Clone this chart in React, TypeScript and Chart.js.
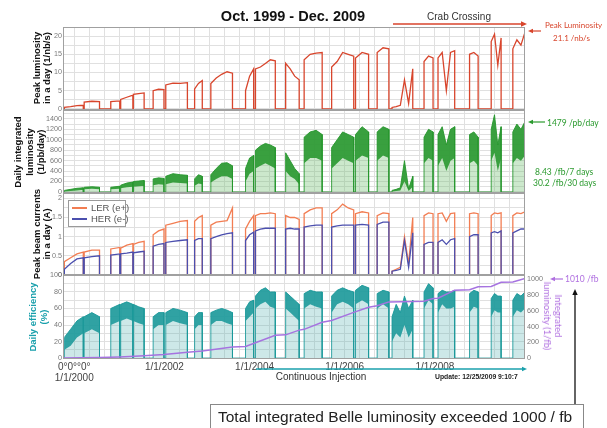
import React, { useEffect, useRef } from 'react';
import { Chart, registerables } from 'chart.js';
Chart.register(...registerables);

// ---------- DATA ----------
// run periods (decimal years)
const runStart = [1999.78, 2000.22, 2000.81, 2001.03, 2001.31, 2001.75, 2002.03, 2002.67, 2003.03, 2003.80, 2004.02, 2004.69, 2005.10, 2005.71, 2006.24, 2006.72, 2007.05, 2007.76, 2008.07, 2008.77, 2009.25, 2009.73];
const runEnd = [2000.20, 2000.56, 2001.01, 2001.30, 2001.55, 2001.99, 2002.51, 2002.84, 2003.51, 2003.98, 2004.46, 2004.99, 2005.50, 2006.20, 2006.53, 2006.98, 2007.51, 2007.96, 2008.44, 2008.96, 2009.47, 2010.0];

// peak luminosity in a day (1/nb/s)
const peakLumi = [
  [0.4, 0.6, 0.9, 1.0], [1.9, 2.1, 2.0], [2.0, 2.2], [2.6, 3.2, 3.8], [4.0, 4.2, 4.4], [5.0, 5.4, 5.3],
  [6.6, 7.1, 7.0, 7.2], [5.5, 7.0, 7.8], [7.0, 8.5, 9.5, 10.2, 9.8], [5.0, 9.0, 11.0], [11.0, 11.5, 12.5, 13.5, 13.2],
  [12.5, 11.0, 9.0, 8.0], [13.5, 15.0, 15.3, 15.5], [11.5, 13.0, 15.5, 15.0, 14.5], [14.0, 15.5, 15.0], [15.5, 16.8, 16.5],
  [0.4, 0.6, 1.0, 8.0, 1.5, 11.0], [13.0, 14.5, 14.0], [14.0, 15.5, 5.0, 15.5, 16.0], [15.0, 15.5, 14.5],
  [18.5, 20.5, 12.0, 19.5], [16.5, 19.0, 17.5, 21.1],
];

// daily integrated luminosity (1/pb/day): upper and lower edge of the band
const dailyHigh = [
  [30, 50, 70, 80], [90, 100, 90], [90, 110], [130, 170, 190], [200, 210, 220], [250, 270, 260],
  [300, 350, 330, 320], [250, 330, 300], [330, 450, 550, 560, 500], [450, 650, 700], [800, 880, 930, 900, 850],
  [750, 600, 450, 350], [1050, 1150, 1180, 1100], [850, 1000, 1150, 1100, 1050], [1100, 1250, 1150], [1150, 1250, 1200],
  [30, 50, 80, 600, 60, 300], [1050, 1200, 1150], [1100, 1250, 900, 1200, 1250], [1100, 1150, 1050],
  [1200, 1479, 900, 1250], [1150, 1300, 1200, 1350],
];
const dailyLow = [
  [10, 20, 30, 40], [50, 60, 50], [50, 60], [70, 90, 100], [100, 110, 120], [130, 150, 140],
  [150, 180, 170, 160], [120, 160, 150], [180, 250, 300, 300, 250], [200, 350, 400], [450, 500, 550, 500, 450],
  [400, 300, 250, 150], [550, 650, 650, 600], [450, 550, 650, 600, 550], [600, 700, 650], [600, 700, 650],
  [10, 20, 30, 200, 20, 100], [550, 650, 600], [500, 650, 400, 600, 650], [550, 600, 500],
  [600, 750, 400, 650], [550, 650, 600, 700],
];

// peak beam currents in a day (A)
const lerCurrent = [
  [0.35, 0.45, 0.55, 0.6], [0.6, 0.65, 0.65], [0.68, 0.72], [0.7, 0.78, 0.82], [0.8, 0.85, 0.88], [1.05, 1.15, 1.2],
  [1.3, 1.35, 1.4, 1.42], [1.4, 1.5, 1.55], [1.3, 1.38, 1.4, 1.42, 1.75], [1.2, 1.4, 1.55], [1.55, 1.6, 1.6, 1.62, 1.6],
  [1.55, 1.5, 1.5, 1.45], [1.6, 1.7, 1.75, 1.75], [1.6, 1.7, 1.85, 1.75, 1.7], [1.6, 1.65, 1.62], [1.55, 1.62, 1.6],
  [0.1, 0.15, 0.2, 1.0, 0.3, 1.5], [1.55, 1.62, 1.6], [1.6, 1.62, 1.4, 1.6, 1.62], [1.6, 1.62, 1.6],
  [1.55, 1.62, 1.6, 1.62], [1.55, 1.62, 1.6, 1.65],
];
const herCurrent = [
  [0.15, 0.3, 0.42, 0.45], [0.45, 0.48, 0.5], [0.52, 0.55], [0.55, 0.57, 0.6], [0.58, 0.6, 0.62], [0.75, 0.8, 0.82],
  [0.85, 0.88, 0.9, 0.92], [0.9, 0.95, 0.95], [0.95, 1.0, 1.05, 1.08, 1.1], [0.9, 1.05, 1.12], [1.15, 1.2, 1.22, 1.22, 1.22],
  [1.2, 1.22, 1.2, 1.2], [1.25, 1.28, 1.3, 1.3], [1.25, 1.28, 1.3, 1.3, 1.3], [1.3, 1.32, 1.3], [1.32, 1.38, 1.38],
  [0.1, 0.12, 0.15, 0.9, 0.2, 1.1], [0.8, 0.85, 0.85], [0.85, 0.92, 0.8, 0.92, 0.95], [1.0, 1.05, 1.05],
  [1.1, 1.13, 1.1, 1.15], [1.1, 1.15, 1.2, 1.2],
];

// daily efficiency (%): upper and lower edge of the dense band
const effHigh = [
  [25, 35, 45, 50], [50, 55, 50], [60, 65], [65, 68, 65], [65, 62, 60], [50, 55, 55],
  [55, 60, 58, 55], [50, 55, 55], [55, 58, 60, 58, 55], [60, 68, 70], [75, 82, 85, 80, 80],
  [80, 75, 70, 65], [78, 82, 80, 80], [75, 82, 85, 82, 80], [82, 88, 85], [78, 82, 80],
  [50, 65, 55, 75, 60, 70], [80, 90, 85], [78, 82, 80, 80, 82], [78, 82, 80],
  [72, 78, 75, 75], [70, 78, 75, 80],
];
const effLow = [
  [10, 15, 25, 30], [30, 35, 30], [40, 45], [45, 48, 45], [45, 42, 40], [35, 40, 40],
  [40, 45, 42, 40], [35, 40, 40], [40, 45, 45, 42, 40], [45, 50, 55], [60, 65, 68, 62, 60],
  [60, 55, 50, 45], [60, 65, 62, 60], [55, 65, 68, 65, 60], [65, 70, 65], [60, 65, 60],
  [20, 30, 25, 40, 25, 35], [60, 70, 65], [55, 65, 60, 60, 62], [55, 62, 60],
  [50, 58, 55, 55], [50, 58, 55, 60],
];

// integrated luminosity (1/fb)
const intYears = [1999.75, 2000.56, 2001.01, 2001.55, 2001.99, 2002.51, 2002.84, 2003.51, 2003.80, 2004.46, 2004.69, 2004.99, 2005.10, 2005.50, 2005.71, 2006.20, 2006.53, 2006.72, 2006.98, 2007.51, 2007.76, 2007.96, 2008.07, 2008.44, 2008.77, 2008.96, 2009.25, 2009.47, 2009.73, 2010.0];
const intValues = [0, 8, 15, 30, 45, 75, 90, 140, 148, 290, 295, 355, 365, 455, 478, 580, 645, 665, 713, 718, 722, 756, 760, 862, 866, 905, 908, 962, 965, 1010];

const xLabelYears = [2000, 2002, 2004, 2006, 2008];
const peakTicks = [0, 5, 10, 15, 20];
const dailyTicks = [0, 200, 400, 600, 800, 1000, 1200, 1400];
const currentTicks = [0, 0.5, 1, 1.5, 2];
const effTicks = [0, 20, 40, 60, 80, 100];
const intTicks = [0, 200, 400, 600, 800, 1000];

// ---------- STYLE ----------
const W = 607, H = 428;
const PLOT_L = 63, PLOT_R = 525;
const X_MIN = 1999.75, X_MAX = 2010.0;
const GRID = '#e0e0e0';
const FONT = "'Liberation Sans', Arial, sans-serif";
const ROUND = "Lato, 'Noto Sans', sans-serif";
const RED = '#d8452c';
const GREEN = 'rgba(38,150,44,0.88)';
const GREEN_LIGHT = 'rgba(110,190,110,0.35)';
const LER_C = '#f27d52';
const HER_C = '#4b4fae';
const TEAL = 'rgba(26,152,154,0.88)';
const TEAL_LIGHT = 'rgba(90,180,180,0.3)';
const VIOLET = '#a673e0';

function buildSeries(vals: number[][]) {
  const pts: { x: number; y: number }[] = [];
  for (let i = 0; i < runStart.length; i++) {
    const s = runStart[i], e = runEnd[i], v = vals[i];
    pts.push({ x: s, y: 0 });
    const n = v.length;
    for (let j = 0; j < n; j++) pts.push({ x: s + ((e - s) * j) / (n - 1), y: v[j] });
    if (e < X_MAX) pts.push({ x: e, y: 0 });
  }
  return pts;
}

const gridX: number[] = [];
for (let y = 2000; y < 2010; y++) for (let k = 0; k < 3; k++) gridX.push(y + k / 3);

function minorTicks(step: number, max: number) {
  const out: number[] = [];
  for (let i = 0; i * step <= max + 1e-9; i++) out.push(Math.round(i * step * 1000) / 1000);
  return out;
}

function xScale(showLabels: boolean) {
  return {
    type: 'linear',
    min: X_MIN,
    max: X_MAX,
    afterBuildTicks: (s: any) => { s.ticks = gridX.map((v) => ({ value: v })); },
    afterFit: (s: any) => { s.height = showLabels ? 26 : 0; },
    grid: { color: GRID, drawTicks: false },
    border: { display: false },
    ticks: {
      display: showLabels,
      autoSkip: false,
      maxRotation: 0,
      padding: 3,
      color: '#444',
      font: { size: 10, family: FONT, lineHeight: 1.1 },
      callback: (v: number) => {
        const r = Math.round(v);
        if (Math.abs(v - r) > 1e-6 || !xLabelYears.includes(r)) return '';
        if (r === 2000) return ['0\u00B00\u00B0\u00B00\u00B0', '1/1/2000'];
        return '1/1/' + r;
      },
    },
  };
}

function yScale(min: number, max: number, grid: number[], labels: number[], position = 'left') {
  return {
    type: 'linear',
    position,
    min,
    max,
    afterBuildTicks: (s: any) => { s.ticks = (position === 'left' ? grid : labels).map((v) => ({ value: v })); },
    afterFit: (s: any) => { s.width = 30; },
    grid: { color: GRID, drawTicks: false, display: position === 'left' },
    border: { display: false },
    ticks: {
      autoSkip: false,
      padding: position === 'left' ? 1 : 2,
      color: '#7a7a7a',
      font: { size: 7.2, family: FONT },
      callback: (v: number) => (labels.some((l) => Math.abs(l - v) < 1e-6) ? String(v) : ''),
    },
  };
}

const framePlugin = {
  id: 'frame',
  afterDraw(chart: any) {
    const { ctx, chartArea: a } = chart;
    ctx.save();
    ctx.strokeStyle = '#a0a0a0';
    ctx.lineWidth = 1;
    ctx.strokeRect(Math.round(a.left) + 0.5, Math.round(a.top) + 0.5, Math.round(a.right - a.left) - 1, Math.round(a.bottom - a.top) - 1);
    ctx.restore();
  },
};

function baseOptions(top: number, bottom: number, rightPad: number, scales: any) {
  return {
    responsive: false,
    animation: false,
    devicePixelRatio: 1,
    events: [],
    layout: { padding: { left: PLOT_L - 30, right: rightPad, top, bottom } },
    plugins: { legend: { display: false }, tooltip: { enabled: false } },
    elements: { point: { radius: 0 }, line: { tension: 0 } },
    scales,
  };
}

function line(data: any, color: string, width = 1.2, extra: any = {}) {
  return { data, borderColor: color, borderWidth: width, pointRadius: 0, fill: false, ...extra };
}

function makeConfigs() {
  const c1 = {
    type: 'line',
    data: { datasets: [line(buildSeries(peakLumi), RED, 1.3)] },
    options: baseOptions(27, H - 110, W - PLOT_R, { x: xScale(false), y: yScale(-0.3, 22.5, minorTicks(2.5, 20), peakTicks) }),
    plugins: [framePlugin],
  };
  const c2 = {
    type: 'line',
    data: {
      datasets: [
        line(buildSeries(dailyHigh), GREEN, 1, { fill: 'origin', backgroundColor: GREEN_LIGHT, order: 2 }),
        line(buildSeries(dailyLow), 'rgba(0,0,0,0)', 0, { fill: '-1', backgroundColor: GREEN, order: 1 }),
      ],
    },
    options: baseOptions(110, H - 193, W - PLOT_R, { x: xScale(false), y: yScale(-20, 1570, minorTicks(100, 1500), dailyTicks) }),
    plugins: [framePlugin],
  };
  const c3 = {
    type: 'line',
    data: { datasets: [line(buildSeries(herCurrent), HER_C, 1.3), line(buildSeries(lerCurrent), LER_C, 1.3)] },
    options: baseOptions(193, H - 275, W - PLOT_R, { x: xScale(false), y: yScale(0, 2.14, minorTicks(0.25, 2), currentTicks) }),
    plugins: [framePlugin],
  };
  const c4 = {
    type: 'line',
    data: {
      datasets: [
        line(intYears.map((x, i) => ({ x, y: intValues[i] })), VIOLET, 1.5, { yAxisID: 'y2', order: 0 }),
        line(buildSeries(effHigh), TEAL, 1, { fill: 'origin', backgroundColor: TEAL_LIGHT, order: 3 }),
        line(buildSeries(effLow), 'rgba(0,0,0,0)', 0, { fill: '-1', backgroundColor: TEAL, order: 2 }),
      ],
    },
    options: baseOptions(275, H - 358.5 - 26, W - PLOT_R - 30, {
      x: xScale(true),
      y: yScale(-0.5, 100.5, minorTicks(10, 100), effTicks),
      y2: yScale(-5, 1054, intTicks, intTicks, 'right'),
    }),
    plugins: [framePlugin],
  };
  return [c1, c2, c3, c4];
}

// ---------- OVERLAY HELPERS ----------
function Txt(p: { x: number; y: number; t: string; size: number; color?: string; bold?: boolean; center?: boolean; font?: string }) {
  return (
    <div
      style={{
        position: 'absolute',
        left: p.x,
        top: p.y,
        transform: p.center ? 'translate(-50%,-50%)' : 'translateY(-50%)',
        fontSize: p.size,
        lineHeight: 1,
        color: p.color || '#222',
        fontWeight: p.bold ? 'bold' : 'normal',
        fontFamily: p.font || FONT,
        whiteSpace: 'nowrap',
      }}
    >
      {p.t}
    </div>
  );
}

function VTitle(p: { cx: number; cy: number; lines: string[]; size: number; lh: number; color: string; bold?: boolean; rot: number; font?: string }) {
  return (
    <div
      style={{
        position: 'absolute',
        left: p.cx,
        top: p.cy,
        transform: `translate(-50%,-50%) rotate(${p.rot}deg)`,
        fontSize: p.size,
        lineHeight: p.lh + 'px',
        color: p.color,
        fontWeight: p.bold ? 'bold' : 'normal',
        fontFamily: p.font || FONT,
        whiteSpace: 'nowrap',
        textAlign: 'center',
      }}
    >
      {p.lines.map((l, i) => (
        <div key={i}>{l}</div>
      ))}
    </div>
  );
}

function Arrow({ x1, y1, x2, y2, color, w = 1.5, head = 6 }: any) {
  const a = Math.atan2(y2 - y1, x2 - x1);
  const hx = x2 - head * Math.cos(a), hy = y2 - head * Math.sin(a);
  const px = Math.sin(a) * head * 0.45, py = -Math.cos(a) * head * 0.45;
  return (
    <g>
      <line x1={x1} y1={y1} x2={hx} y2={hy} stroke={color} strokeWidth={w} />
      <polygon points={`${x2},${y2} ${hx + px},${hy + py} ${hx - px},${hy - py}`} fill={color} />
    </g>
  );
}

export default function App() {
  const refs = [useRef<HTMLCanvasElement>(null), useRef<HTMLCanvasElement>(null), useRef<HTMLCanvasElement>(null), useRef<HTMLCanvasElement>(null)];
  useEffect(() => {
    const cfgs = makeConfigs();
    const charts = cfgs.map((cfg, i) => new Chart(refs[i].current as HTMLCanvasElement, cfg as any));
    return () => charts.forEach((c) => c.destroy());
  }, []);

  return (
    <div style={{ position: 'fixed', left: 0, top: 0, width: W, height: H, background: '#fff', overflow: 'hidden' }}>
      {refs.map((r, i) => (
        <canvas key={i} ref={r} width={W} height={H} style={{ position: 'absolute', left: 0, top: 0, width: W, height: H }} />
      ))}

      {/* legend */}
      <div style={{ position: 'absolute', left: 68, top: 200, width: 56, height: 25, border: '1px solid #9a9a9a', background: '#fff', fontFamily: FONT, fontSize: 9.5, color: '#555' }}>
        <div style={{ position: 'absolute', left: 3, top: 6, width: 15, height: 1.5, background: LER_C }} />
        <div style={{ position: 'absolute', left: 22, top: 1, lineHeight: '11px', whiteSpace: 'nowrap' }}>LER (e+)</div>
        <div style={{ position: 'absolute', left: 3, top: 17, width: 15, height: 1.5, background: HER_C }} />
        <div style={{ position: 'absolute', left: 22, top: 12, lineHeight: '11px', whiteSpace: 'nowrap' }}>HER (e-)</div>
      </div>

      {/* axis titles */}
      <VTitle cx={42} cy={68} lines={['Peak luminosity', 'in a day (1/nb/s)']} size={9.5} lh={10} color="#111" bold rot={-90} />
      <VTitle cx={28.5} cy={152} lines={['Daily integrated', 'luminosity', '(1/pb/day)']} size={9.5} lh={11.5} color="#111" bold rot={-90} />
      <VTitle cx={42} cy={234} lines={['Peak beam currents', 'in a day (A)']} size={9.5} lh={10} color="#111" bold rot={-90} />
      <VTitle cx={38} cy={317} lines={['Daily efficiency', '(%)']} size={9.5} lh={11} color="#1aa0ac" bold rot={-90} />
      <VTitle cx={552.5} cy={316} lines={['Integrated', 'luminosity (1/fb)']} size={9.5} lh={11} color="#b070e0" rot={90} font={ROUND} />

      {/* texts */}
      <Txt x={293} y={16} t="Oct. 1999 - Dec. 2009" size={14.5} bold center color="#111" />
      <Txt x={459} y={17} t="Crab Crossing" size={10} center color="#333" />
      <Txt x={545} y={25} t="Peak Luminosity" size={8} color={RED} font={ROUND} />
      <Txt x={553} y={38} t="21.1 /nb/s" size={8} color={RED} font={ROUND} />
      <Txt x={547} y={123} t="1479 /pb/day" size={8.5} color="#2a9a2e" font={ROUND} />
      <Txt x={535} y={172} t="8.43 /fb/7 days" size={8.5} color="#2a9a2e" font={ROUND} />
      <Txt x={533} y={183} t="30.2 /fb/30 days" size={8.5} color="#2a9a2e" font={ROUND} />
      <Txt x={565} y={279} t="1010 /fb" size={8.5} color="#b070e0" font={ROUND} />
      <Txt x={321} y={377} t="Continuous Injection" size={10} center color="#333" />
      <Txt x={435} y={377} t="Update: 12/25/2009 9:10:7" size={6.8} bold color="#222" />

      {/* bottom box */}
      <div style={{ position: 'absolute', left: 210, top: 404, width: 372, height: 30, border: '1px solid #888', background: '#fff' }} />
      <Txt x={218} y={417} t="Total integrated Belle luminosity exceeded 1000 / fb" size={15.5} color="#222" />

      <svg width={W} height={H} style={{ position: 'absolute', left: 0, top: 0, pointerEvents: 'none' }}>
        <Arrow x1={393} y1={24} x2={527} y2={24} color={RED} w={1.5} />
        <Arrow x1={541} y1={31} x2={528} y2={31} color={RED} w={1.2} head={5} />
        <Arrow x1={545} y1={122} x2={528} y2={122} color="#2a9a2e" w={1.2} head={5} />
        <Arrow x1={563} y1={279} x2={550} y2={279} color="#b070e0" w={1.2} head={5} />
        <Arrow x1={256} y1={369} x2={527} y2={369} color="#1aa0ac" w={1.3} head={5} />
        <Arrow x1={575} y1={404} x2={575} y2={289} color="#111" w={1.3} head={6} />
      </svg>
    </div>
  );
}
